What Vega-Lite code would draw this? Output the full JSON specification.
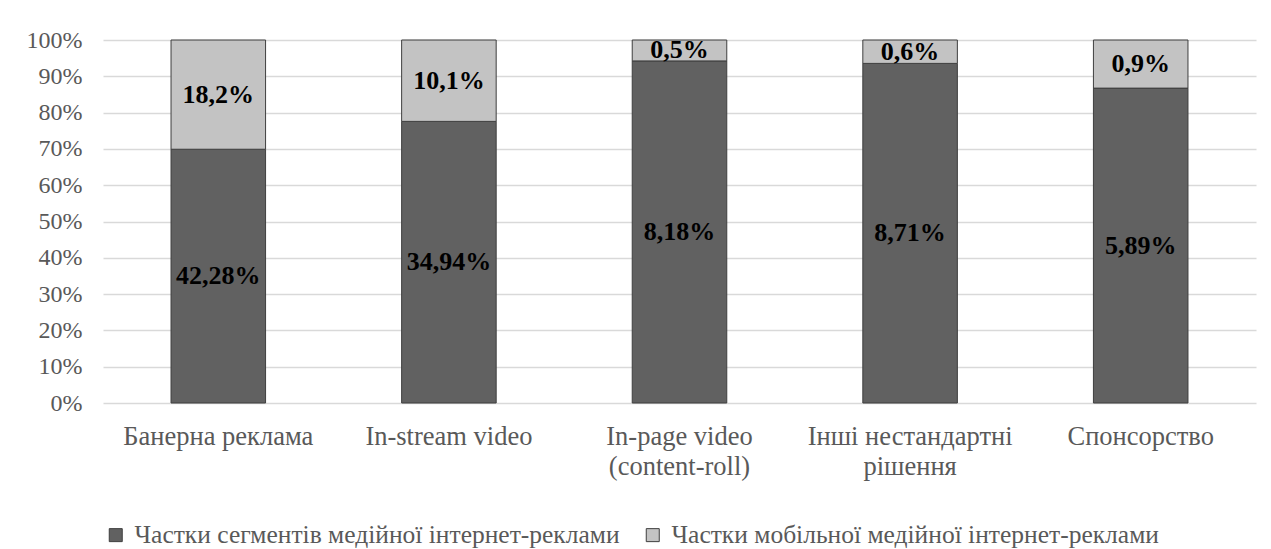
{
  "$schema": "https://vega.github.io/schema/vega-lite/v6.json",
  "autosize": {"type": "none"},
  "padding": {"left": 103, "top": 40, "right": 15, "bottom": 146},
  "width": 1153,
  "height": 363,
  "background": "white",
  "config": {
    "view": {"stroke": null},
    "font": "Liberation Serif, serif",
    "axis": {"labelFont": "Liberation Serif, serif", "labelColor": "#595959"},
    "legend": {"labelFont": "Liberation Serif, serif", "labelColor": "#595959"},
    "text": {"font": "Liberation Serif, serif"}
  },
  "data": {
    "values": [
      {"cat": "Банерна реклама", "series": "Частки сегментів медійної інтернет-реклами", "ord": 1, "value": 42.28, "label": "42,28%"},
      {"cat": "Банерна реклама", "series": "Частки мобільної медійної інтернет-реклами", "ord": 2, "value": 18.2, "label": "18,2%"},
      {"cat": "In-stream video", "series": "Частки сегментів медійної інтернет-реклами", "ord": 1, "value": 34.94, "label": "34,94%"},
      {"cat": "In-stream video", "series": "Частки мобільної медійної інтернет-реклами", "ord": 2, "value": 10.1, "label": "10,1%"},
      {"cat": "In-page video (content-roll)", "series": "Частки сегментів медійної інтернет-реклами", "ord": 1, "value": 8.18, "label": "8,18%"},
      {"cat": "In-page video (content-roll)", "series": "Частки мобільної медійної інтернет-реклами", "ord": 2, "value": 0.5, "label": "0,5%"},
      {"cat": "Інші нестандартні рішення", "series": "Частки сегментів медійної інтернет-реклами", "ord": 1, "value": 8.71, "label": "8,71%"},
      {"cat": "Інші нестандартні рішення", "series": "Частки мобільної медійної інтернет-реклами", "ord": 2, "value": 0.6, "label": "0,6%"},
      {"cat": "Спонсорство", "series": "Частки сегментів медійної інтернет-реклами", "ord": 1, "value": 5.89, "label": "5,89%"},
      {"cat": "Спонсорство", "series": "Частки мобільної медійної інтернет-реклами", "ord": 2, "value": 0.9, "label": "0,9%"}
    ]
  },
  "encoding": {
    "x": {
      "field": "cat",
      "type": "nominal",
      "sort": null,
      "scale": {"paddingInner": 0.59, "paddingOuter": 0.295},
      "axis": {
        "title": null,
        "labelAngle": 0,
        "ticks": false,
        "domain": false,
        "labelPadding": 20,
        "labelFont": "Liberation Serif, serif",
        "labelFontSize": 26.5,
        "labelColor": "#595959",
        "labelLineHeight": 30,
        "labelBaseline": "top",
        "labelLimit": 400,
        "labelOverlap": false,
        "labelExpr": "datum.label == 'In-page video (content-roll)' ? ['In-page video', '(content-roll)'] : datum.label == 'Інші нестандартні рішення' ? ['Інші нестандартні', 'рішення'] : datum.label"
      }
    }
  },
  "resolve": {"axis": {"y": "independent"}},
  "layer": [
    {
      "mark": {"type": "bar", "stroke": "#3f3f3f", "strokeWidth": 1},
      "encoding": {
        "y": {
          "field": "value",
          "type": "quantitative",
          "stack": "normalize",
          "scale": {"domain": [0, 1], "nice": false},
          "axis": {
            "title": null,
            "format": ".0%",
            "values": [0, 0.1, 0.2, 0.3, 0.4, 0.5, 0.6, 0.7, 0.8, 0.9, 1],
            "tickCount": 11,
            "ticks": false,
            "domain": false,
            "labelPadding": 21,
            "labelOverlap": false,
            "labelFont": "Liberation Serif, serif",
            "labelFontSize": 24,
            "labelColor": "#595959",
            "gridColor": "#d9d9d9",
            "gridWidth": 1.5
          }
        },
        "color": {
          "field": "series",
          "type": "nominal",
          "sort": null,
          "scale": {
            "domain": ["Частки сегментів медійної інтернет-реклами", "Частки мобільної медійної інтернет-реклами"],
            "range": ["#616161", "#c3c3c3"]
          },
          "legend": {
            "title": null,
            "orient": "bottom",
            "direction": "horizontal",
            "offset": 42,
            "symbolType": "square",
            "symbolSize": 169,
            "symbolStrokeColor": "#3f3f3f",
            "symbolStrokeWidth": 1,
            "labelFont": "Liberation Serif, serif",
            "labelFontSize": 25.5,
            "labelColor": "#595959",
            "labelOffset": 6,
            "columnPadding": 20,
            "labelLimit": 700
          }
        },
        "order": {"field": "ord", "type": "quantitative", "sort": "ascending"}
      }
    },
    {
      "transform": [
        {"stack": "value", "groupby": ["cat"], "sort": [{"field": "ord", "order": "ascending"}], "offset": "normalize", "as": ["y0", "y1"]},
        {"fold": ["y0", "y1"], "as": ["end", "pos"]},
        {"aggregate": [{"op": "mean", "field": "pos", "as": "mid"}], "groupby": ["cat", "label"]}
      ],
      "mark": {"type": "text", "font": "Liberation Serif, serif", "fontWeight": "bold", "fontSize": 26, "color": "#000000", "baseline": "middle"},
      "encoding": {
        "y": {"field": "mid", "type": "quantitative", "axis": null},
        "text": {"field": "label", "type": "nominal"}
      }
    }
  ]
}
